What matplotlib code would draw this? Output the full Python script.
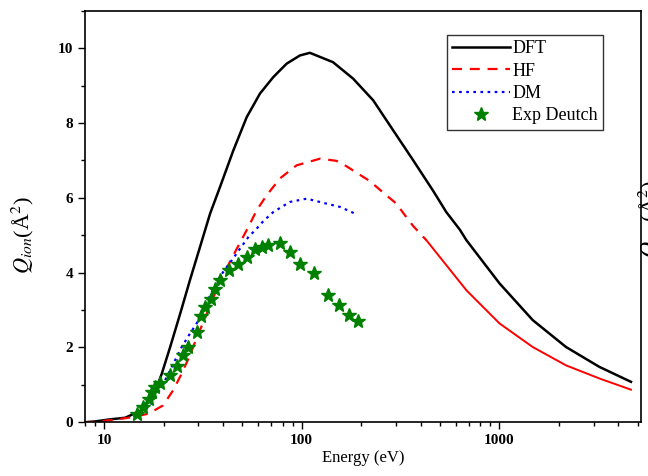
import matplotlib
matplotlib.use('Agg')
import matplotlib.pyplot as plt
from matplotlib.ticker import MultipleLocator, LogLocator, NullFormatter, FixedLocator

plt.rcParams['font.family'] = 'Liberation Serif'
plt.rcParams['mathtext.fontset'] = 'stix'

# DFT curve
dft_e = [8, 9, 10.5, 12.8, 15.5, 17.5, 18.5, 19.6, 21.6, 24.3, 27.2, 30.6, 34.4, 38.6, 45.1, 52.7,
         61.5, 71.8, 83.9, 98, 110, 144, 182, 230, 290, 366, 461, 539, 631, 681, 1003, 1476,
         2176, 3206, 4634]
dft_q = [0.0, 0.02, 0.07, 0.12, 0.32, 0.72, 0.94, 1.30, 2.01, 2.91, 3.80, 4.69, 5.58, 6.29, 7.27, 8.16,
         8.79, 9.23, 9.59, 9.81, 9.88, 9.63, 9.19, 8.61, 7.81, 7.01, 6.20, 5.62, 5.15, 4.87, 3.71, 2.73,
         2.01, 1.48, 1.08]

# HF curve
hf_e = [8, 9, 11.4, 14.1, 16.8, 19.9, 22.4, 24.7, 27.2, 29.4, 33.4, 38.6, 46, 53.7, 59.2, 66.5,
        77.6, 94.2, 124, 150, 168, 221, 268, 301, 326, 366, 427, 461, 681, 1003, 1476, 2176,
        3206, 4634]
hf_q = [0.0, 0.01, 0.07, 0.14, 0.23, 0.45, 0.86, 1.30, 1.79, 2.25, 2.95, 3.78, 4.55, 5.22, 5.67, 6.07,
        6.52, 6.87, 7.05, 6.99, 6.85, 6.45, 6.07, 5.85, 5.60, 5.25, 4.87, 4.65, 3.53, 2.64, 2.01, 1.52,
        1.17, 0.87]

# DM curve
dm_e = [14.1, 16.8, 19.6, 21.6, 24.7, 27.2, 29.4, 33, 38.6, 45, 48.7, 53.7, 59.2, 64, 71.8, 87,
        106, 128, 156, 186]
dm_q = [0.14, 0.4, 0.95, 1.39, 2.01, 2.37, 2.64, 3.2, 3.9, 4.38, 4.64, 4.95, 5.18, 5.38, 5.62, 5.89,
        5.98, 5.87, 5.76, 5.58]

# Exp Deutch
exp_e = [14.66, 15.8, 16.8, 17.4, 18.1, 19.2, 21.6, 23.5, 25.2, 26.7, 29.4, 30.9, 32.5, 34.6, 36.4,
         38.6, 42.9, 47.7, 52.6, 57.9, 62.7, 67.7, 77.6, 87, 97.7, 116, 136, 154, 173, 193]
exp_q = [0.21, 0.41, 0.61, 0.81, 0.94, 1.06, 1.26, 1.51, 1.79, 2.01, 2.41, 2.83, 3.07, 3.29, 3.57,
         3.81, 4.08, 4.22, 4.42, 4.62, 4.69, 4.75, 4.79, 4.54, 4.22, 3.98, 3.40, 3.13, 2.86, 2.70]

fig = plt.figure(figsize=(6.48, 4.76), dpi=100)
ax = fig.add_axes([0.131, 0.113, 0.858, 0.864])

ax.plot(dft_e, dft_q, color='black', lw=1.8, label='DFT')
# HF: dashes run together at high energy, so draw that part solid
cut = hf_e.index(427)
ax.plot(hf_e[:cut + 1], hf_q[:cut + 1], color='red', lw=1.6, ls=(0, (4.5, 3.5)), label='HF')
ax.plot(hf_e[cut:], hf_q[cut:], color='red', lw=1.4, ls='-')
ax.plot(dm_e, dm_q, color='blue', lw=1.6, ls=(0, (1.2, 2.0)), label='DM')
ax.plot(exp_e, exp_q, ls='none', marker='*', color='green', ms=10, label='Exp Deutch')

ax.set_xscale('log')
ax.set_xlim(8, 5200)
ax.set_ylim(0, 11)
ax.yaxis.set_major_locator(FixedLocator([0, 2, 4, 6, 8, 10]))
ax.yaxis.set_minor_locator(MultipleLocator(1))
ax.xaxis.set_minor_locator(LogLocator(base=10, subs=range(2, 10)))
ax.xaxis.set_minor_formatter(NullFormatter())
ax.set_xticks([10, 100, 1000])
ax.set_xticklabels(['10', '100', '1000'])

ax.tick_params(which='major', direction='out', length=5, width=1, labelsize=11)
ax.tick_params(which='minor', direction='out', length=3, width=1)
for lab in ax.get_xticklabels() + ax.get_yticklabels():
    lab.set_fontweight('bold')
for s in ax.spines.values():
    s.set_linewidth(1.2)

ax.set_xlabel('Energy (eV)', fontsize=12, labelpad=2)
ax.set_ylabel(r'$Q_{ion}$(Å$^2$)', fontsize=16)
ax.yaxis.set_label_coords(-0.088, 0.455)

leg = ax.legend(loc='upper right', bbox_to_anchor=(0.932, 0.942), borderaxespad=0, fontsize=13,
                frameon=True, fancybox=False, edgecolor='black', handlelength=3.2,
                handletextpad=0.1, borderpad=0.3, labelspacing=0.3)
leg.get_frame().set_linewidth(1.0)

# right axis label, cut off by the picture edge as in the original
fig.text(0.983, 0.54, r'$Q_{ion}$(Å$^2$)', rotation=90, fontsize=16, ha='left', va='center')

fig.savefig('out.png', dpi=100)
